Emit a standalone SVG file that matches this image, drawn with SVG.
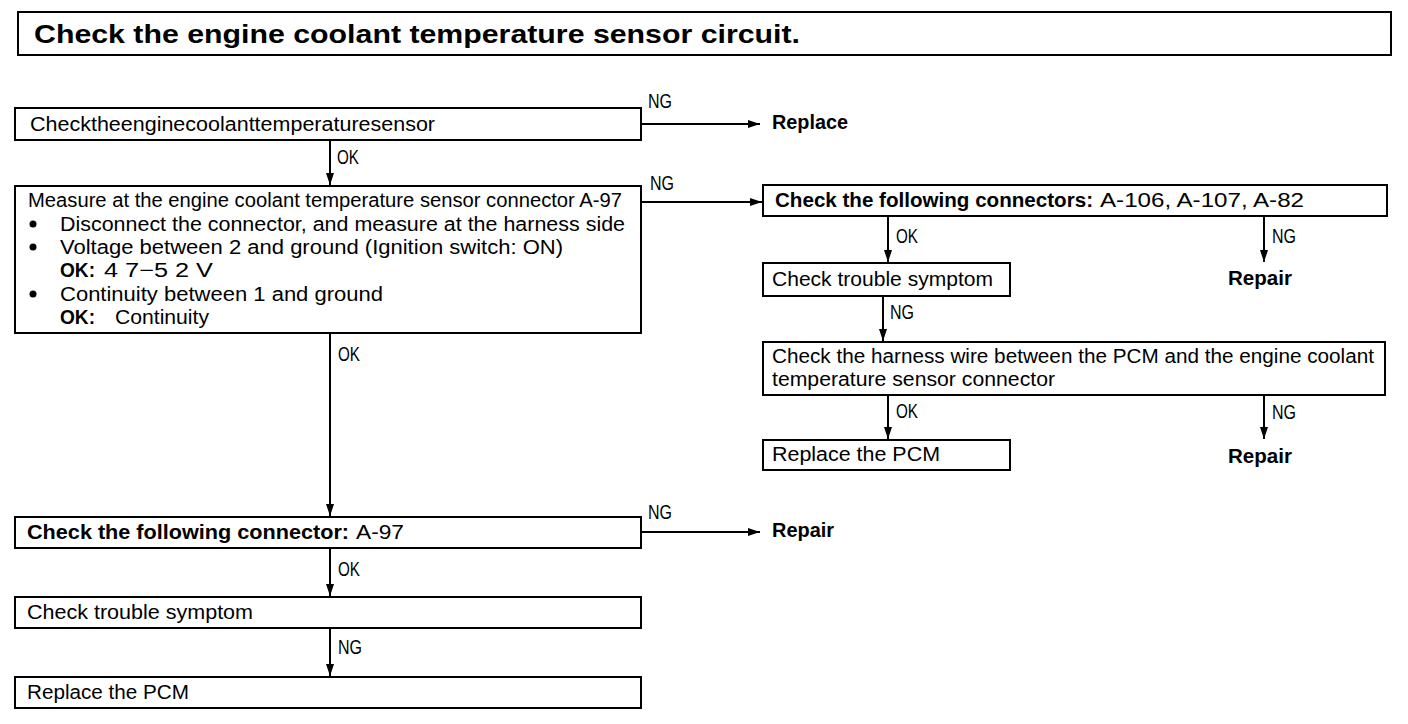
<svg xmlns="http://www.w3.org/2000/svg" width="1408" height="724" viewBox="0 0 1408 724">
<style>
text{font-family:"Liberation Sans",Arial,sans-serif;font-size:20px;fill:#000}
.b{font-weight:bold}
.t{font-weight:bold;font-size:26px}
.l{font-size:20px}
.box{fill:#fff;stroke:#000;stroke-width:2}
.c line{stroke:#000;stroke-width:2;fill:none}
</style>
<defs>
<marker id="ah" viewBox="0 0 12 8" refX="12" refY="4" markerWidth="12" markerHeight="8" markerUnits="userSpaceOnUse" orient="auto">
<path d="M0,0 L12,4 L0,8 Z" fill="#000"/>
</marker>
</defs>
<rect width="1408" height="724" fill="#fff"/>
<g id="title">
<rect class="box" x="18" y="12" width="1373" height="43"/>
<text class="t" x="34" y="43" textLength="766" lengthAdjust="spacingAndGlyphs">Check the engine coolant temperature sensor circuit.</text>
</g>
<g class="c" id="connectors">
<line x1="641" y1="124" x2="760" y2="124" marker-end="url(#ah)"/>
<line x1="330" y1="140" x2="330" y2="185" marker-end="url(#ah)"/>
<line x1="641" y1="202" x2="762" y2="202" marker-end="url(#ah)"/>
<line x1="888" y1="216" x2="888" y2="262" marker-end="url(#ah)"/>
<line x1="1264" y1="216" x2="1264" y2="262" marker-end="url(#ah)"/>
<line x1="883" y1="296" x2="883" y2="341" marker-end="url(#ah)"/>
<line x1="888" y1="395" x2="888" y2="439" marker-end="url(#ah)"/>
<line x1="1264" y1="395" x2="1264" y2="439" marker-end="url(#ah)"/>
<line x1="330" y1="333" x2="330" y2="516" marker-end="url(#ah)"/>
<line x1="641" y1="532" x2="760" y2="532" marker-end="url(#ah)"/>
<line x1="330" y1="548" x2="330" y2="596" marker-end="url(#ah)"/>
<line x1="330" y1="628" x2="330" y2="676" marker-end="url(#ah)"/>
<text class="l" x="648" y="108" textLength="24" lengthAdjust="spacingAndGlyphs">NG</text>
<text class="l" x="337" y="164" textLength="22" lengthAdjust="spacingAndGlyphs">OK</text>
<text class="l" x="650" y="190" textLength="24" lengthAdjust="spacingAndGlyphs">NG</text>
<text class="l" x="896" y="243" textLength="22" lengthAdjust="spacingAndGlyphs">OK</text>
<text class="l" x="1272" y="243" textLength="24" lengthAdjust="spacingAndGlyphs">NG</text>
<text class="l" x="890" y="319" textLength="24" lengthAdjust="spacingAndGlyphs">NG</text>
<text class="l" x="896" y="418" textLength="22" lengthAdjust="spacingAndGlyphs">OK</text>
<text class="l" x="1272" y="419" textLength="24" lengthAdjust="spacingAndGlyphs">NG</text>
<text class="l" x="338" y="361" textLength="22" lengthAdjust="spacingAndGlyphs">OK</text>
<text class="l" x="648" y="519" textLength="24" lengthAdjust="spacingAndGlyphs">NG</text>
<text class="l" x="338" y="576" textLength="22" lengthAdjust="spacingAndGlyphs">OK</text>
<text class="l" x="338" y="654" textLength="24" lengthAdjust="spacingAndGlyphs">NG</text>
</g>
<g id="n1">
<rect class="box" x="15" y="108" width="626" height="32"/>
<text x="30" y="131" textLength="405" lengthAdjust="spacingAndGlyphs">Checktheenginecoolanttemperaturesensor</text>
</g>
<g id="replace1"><text class="b" x="772" y="129" textLength="76" lengthAdjust="spacingAndGlyphs">Replace</text></g>
<g id="n2">
<rect class="box" x="15" y="186" width="626" height="147"/>
<text x="28" y="207" textLength="594" lengthAdjust="spacingAndGlyphs">Measure at the engine coolant temperature sensor connector A-97</text>
<circle cx="33" cy="224" r="3.5"/>
<text x="60" y="231" textLength="565" lengthAdjust="spacingAndGlyphs">Disconnect the connector, and measure at the harness side</text>
<circle cx="33" cy="247" r="3.5"/>
<text x="60" y="254" textLength="503" lengthAdjust="spacingAndGlyphs">Voltage between 2 and ground (Ignition switch: ON)</text>
<text class="b" x="60" y="277" textLength="35" lengthAdjust="spacingAndGlyphs">OK:</text>
<text x="104" y="277" textLength="109" lengthAdjust="spacingAndGlyphs">4 7−5 2 V</text>
<circle cx="33" cy="294" r="3.5"/>
<text x="60" y="301" textLength="323" lengthAdjust="spacingAndGlyphs">Continuity between 1 and ground</text>
<text class="b" x="60" y="324" textLength="35" lengthAdjust="spacingAndGlyphs">OK:</text>
<text x="115" y="324" textLength="94" lengthAdjust="spacingAndGlyphs">Continuity</text>
</g>
<g id="n3">
<rect class="box" x="763" y="185" width="624" height="31"/>
<text class="b" x="775" y="207" textLength="318" lengthAdjust="spacingAndGlyphs">Check the following connectors:</text>
<text x="1100" y="207" textLength="204" lengthAdjust="spacingAndGlyphs">A-106, A-107, A-82</text>
</g>
<g id="repair1"><text class="b" x="1228" y="285" textLength="64" lengthAdjust="spacingAndGlyphs">Repair</text></g>
<g id="n4">
<rect class="box" x="763" y="263" width="247" height="33"/>
<text x="772" y="286" textLength="221" lengthAdjust="spacingAndGlyphs">Check trouble symptom</text>
</g>
<g id="n5">
<rect class="box" x="763" y="342" width="622" height="53"/>
<text x="772" y="363" textLength="602" lengthAdjust="spacingAndGlyphs">Check the harness wire between the PCM and the engine coolant</text>
<text x="772" y="386" textLength="283" lengthAdjust="spacingAndGlyphs">temperature sensor connector</text>
</g>
<g id="repair2"><text class="b" x="1228" y="463" textLength="64" lengthAdjust="spacingAndGlyphs">Repair</text></g>
<g id="n6">
<rect class="box" x="763" y="440" width="247" height="30"/>
<text x="772" y="461" textLength="168" lengthAdjust="spacingAndGlyphs">Replace the PCM</text>
</g>
<g id="n7">
<rect class="box" x="15" y="517" width="626" height="31"/>
<text class="b" x="27" y="539" textLength="322" lengthAdjust="spacingAndGlyphs">Check the following connector:</text>
<text x="356" y="539" textLength="48" lengthAdjust="spacingAndGlyphs">A-97</text>
</g>
<g id="repair3"><text class="b" x="772" y="537" textLength="62" lengthAdjust="spacingAndGlyphs">Repair</text></g>
<g id="n8">
<rect class="box" x="15" y="597" width="626" height="31"/>
<text x="27" y="619" textLength="226" lengthAdjust="spacingAndGlyphs">Check trouble symptom</text>
</g>
<g id="n9">
<rect class="box" x="15" y="677" width="626" height="31"/>
<text x="27" y="699" textLength="162" lengthAdjust="spacingAndGlyphs">Replace the PCM</text>
</g>
</svg>
